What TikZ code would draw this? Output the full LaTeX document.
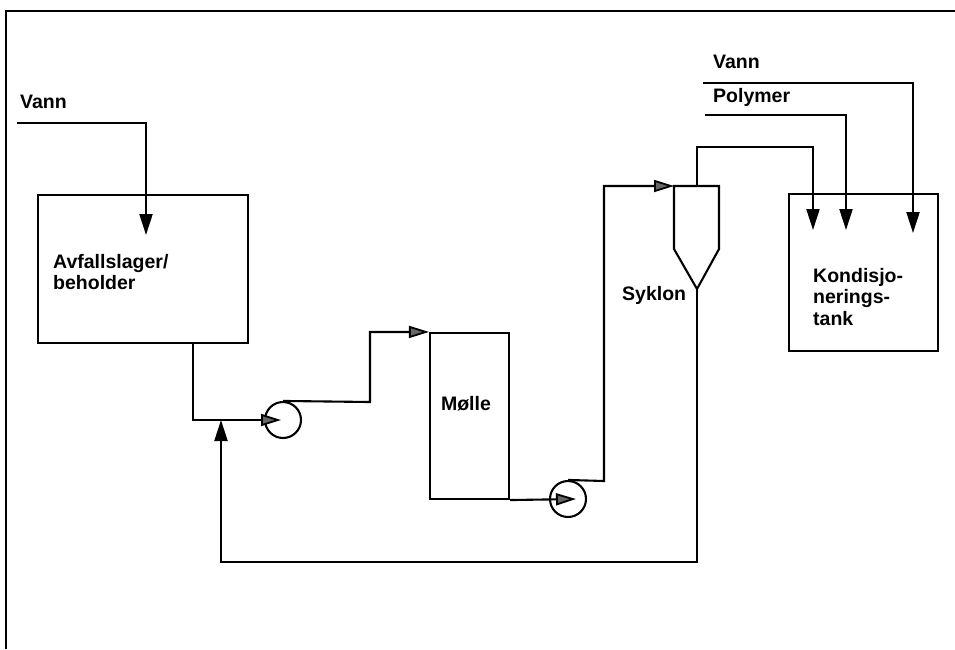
\documentclass[tikz,border=0pt]{standalone}
\usepackage{fontspec}
\setmainfont{Liberation Sans}
\usetikzlibrary{arrows.meta}
\tikzset{
  pipe/.style={line width=2.1pt},
  frameline/.style={line width=2pt},
  vessel/.style={draw, line width=2.1pt, minimum width=#1, inner sep=0pt},
  pump/.style={draw, circle, line width=2.1pt, minimum size=36pt, inner sep=0pt},
  lbl/.style={font=\fontsize{19.5}{22}\selectfont\bfseries, inner sep=0pt, align=left},
  inarrow/.style={-{Triangle[length=21pt,width=13pt]}},
  feedarrow/.style={-{Triangle[length=20pt,width=12pt,fill=black!60,line width=1.8pt]}},
}
\begin{document}
\begin{tikzpicture}[x=1pt,y=-1pt]
\useasboundingbox (0,0) rectangle (955,649);
% frame (scan edge)
\draw[frameline] (6,649) -- (6,11) -- (955,11);

% vessels
\node[vessel=210pt, minimum height=148pt] (store) at (143,269) {};
\node[vessel=79pt, minimum height=166pt] (mill) at (469.5,416) {};
\node[vessel=149pt, minimum height=157pt] (tank) at (863.5,272.5) {};
\node[pump] (p1) at (283,420) {};
\node[pump] (p2) at (568,499) {};

% cyclone
\coordinate (cTL) at (674,186);
\coordinate (cTR) at (719,186);
\coordinate (cBR) at (719,249);
\coordinate (cBL) at (674,249);
\coordinate (cApex) at (697,289);
\coordinate (cTop) at (697,186);
\draw[pipe] (cTL) -- (cTR) -- (cBR) -- (cApex) -- (cBL) -- cycle;

% labels
\node[lbl, anchor=base west] (tVann1) at (20,108) {Vann};
\node[lbl, anchor=base west] (tStore1) at (53,268) {Avfallslager/};
\node[lbl, anchor=base west] (tStore2) at (53,289) {beholder};
\node[lbl, anchor=base] (tMill) at (466,410) {Mølle};
\node[lbl, anchor=base west] (tSyk) at (622,300) {Syklon};
\node[lbl, anchor=base west] (tVann2) at (713,68) {Vann};
\node[lbl, anchor=base west] (tPoly) at (713,102) {Polymer};
\node[lbl, anchor=base west] (tTank1) at (813,282) {Kondisjo-};
\node[lbl, anchor=base west] (tTank2) at (813,303) {nerings-};
\node[lbl, anchor=base west] (tTank3) at (813,325) {tank};

% free ends
\coordinate (vann1in) at (17,123);
\coordinate (vann1tip) at (146,235);
\coordinate (vann2in) at (703,83);
\coordinate (vann2tip) at (913,233);
\coordinate (polyin) at (705,115);
\coordinate (polytip) at (846,230);
\coordinate (ovtip) at (813,230);
\coordinate (storeout) at (193,343);
\coordinate (junction) at (221,420);

% connectors
\draw[pipe, inarrow] (vann1in) -| (vann1tip);
\draw[pipe, feedarrow] (storeout) |- ([xshift=-2pt]p1.center);
\draw[pipe, inarrow] (cApex) -- (697,562) -| (junction);
\draw[pipe, feedarrow] (p1.north) -- (370,402) |- (mill.north west);
\draw[pipe, feedarrow] (mill.south east) -- ([xshift=8pt]p2.center);
\draw[pipe, feedarrow] (p2.north) -- (604,481) |- (cTL);
\draw[pipe, inarrow] (cTop) |- (813,147) -- (ovtip);
\draw[pipe, inarrow] (polyin) -| (polytip);
\draw[pipe, inarrow] (vann2in) -| (vann2tip);
\end{tikzpicture}
\end{document}
